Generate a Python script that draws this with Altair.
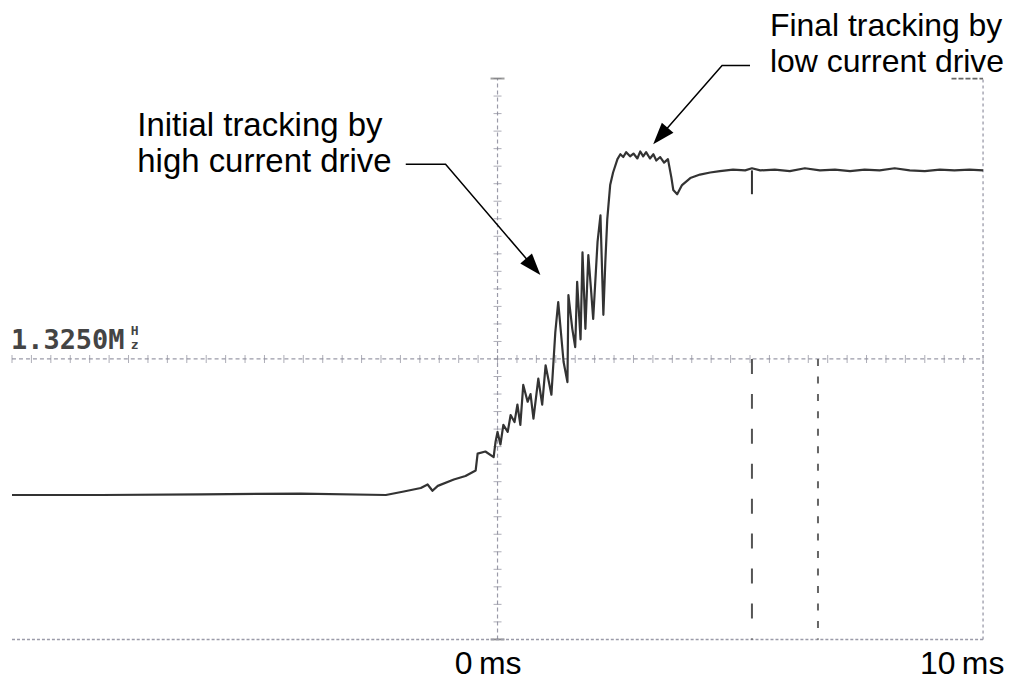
import altair as alt
import pandas as pd
import numpy as np

# ---- oscilloscope trace (time in ms, level in vertical divisions) ----
trace_t = [-10.0, -8.16, -6.10, -4.05, -2.30, -1.93, -1.58, -1.44, -1.34, -1.23,
           -0.90, -0.66, -0.45, -0.41, -0.25, -0.08, -0.04, 0.00, 0.06, 0.12,
           0.21, 0.27, 0.35, 0.41, 0.47, 0.53, 0.62, 0.68, 0.74, 0.84,
           0.92, 0.99, 1.11, 1.19, 1.25, 1.36, 1.44, 1.46, 1.54, 1.60,
           1.64, 1.71, 1.75, 1.81, 1.87, 1.93, 1.97, 2.06, 2.12, 2.18,
           2.22, 2.26, 2.32, 2.38, 2.47, 2.53, 2.59, 2.65, 2.73, 2.80,
           2.88, 2.94, 3.00, 3.06, 3.14, 3.21, 3.27, 3.35, 3.43, 3.51,
           3.58, 3.62, 3.70, 3.80, 3.97, 4.17, 4.38, 4.58, 4.85, 5.10,
           5.24, 5.41, 5.71, 6.02, 6.33, 6.64, 6.95, 7.26, 7.56, 7.87,
           8.18, 8.49, 8.80, 9.11, 9.41, 9.72, 10.0]
trace_v = [-1.94, -1.94, -1.93, -1.92, -1.94, -1.89, -1.84, -1.79, -1.88, -1.81,
           -1.72, -1.67, -1.59, -1.35, -1.32, -1.40, -1.18, -1.04, -1.22, -0.94,
           -1.04, -0.80, -0.90, -0.65, -0.94, -0.37, -0.61, -0.50, -0.85, -0.28,
           -0.65, -0.09, -0.51, 0.38, 0.81, -0.04, -0.33, 0.91, 0.43, 0.17,
           1.10, 0.28, 1.52, 0.43, 1.48, 0.95, 0.57, 1.67, 2.05, 0.63,
           1.38, 1.99, 2.48, 2.66, 2.85, 2.92, 2.88, 2.95, 2.89, 2.93,
           2.86, 2.96, 2.89, 2.95, 2.86, 2.92, 2.83, 2.88, 2.80, 2.85,
           2.59, 2.41, 2.35, 2.48, 2.58, 2.63, 2.66, 2.68, 2.70, 2.69,
           2.72, 2.69, 2.70, 2.68, 2.72, 2.69, 2.70, 2.68, 2.70, 2.69,
           2.72, 2.69, 2.68, 2.70, 2.69, 2.70, 2.69]

# cursors
cursor_dash_t = 5.24
cursor_dot_t = 6.60
trace_mark_v = [2.69, 2.35]

# texts
x_labels = ["0\u2009ms", "10\u2009ms"]
x_label_t = [-0.88, 8.70]
x_label_v = [-4.49, -4.49]

anno1_lines = ["Initial tracking by", "high current drive"]
anno1_t = [-7.42, -7.42]
anno1_v = [3.175, 2.662]
anno2_lines = ["Final tracking by", "low current drive"]
anno2_t = [5.61, 5.61]
anno2_v = [4.60, 4.10]

freq_label = "1.3250M"
freq_unit = ["H", "z"]

# annotation leader lines (t, v) and arrow heads
lead1_t = [-1.89, -1.07, 0.736]
lead1_v = [2.776, 2.776, 1.315]
lead2_t = [5.20, 4.625, 3.355]
lead2_v = [4.185, 4.185, 3.179]
head_t = [0.736, 3.355]
head_v = [1.315, 3.179]
head_angle = [139.4, 221.1]

XS = alt.Scale(domain=[-10, 10], nice=False, zero=False)
YS = alt.Scale(domain=[-4, 4], nice=False, zero=False)


def X(f="t"):
    return alt.X(f"{f}:Q", scale=XS, axis=None)


def Y(f="v"):
    return alt.Y(f"{f}:Q", scale=YS, axis=None)


grid_col = "#9a9aa8"

# center axes
hline = alt.Chart(pd.DataFrame({"t": [-10], "t2": [10], "v": [0]})).mark_rule(
    color=grid_col, strokeWidth=1.2, strokeDash=[4, 3]).encode(
    x=X(), x2="t2:Q", y=Y())
vline = alt.Chart(pd.DataFrame({"t": [0], "v": [-4], "v2": [4]})).mark_rule(
    color=grid_col, strokeWidth=1.2, strokeDash=[4, 3]).encode(
    x=X(), y=Y(), y2="v2:Q")

hticks = [round(x, 2) for x in np.arange(-10, 10.001, 0.4)]
vticks = [round(x, 2) for x in np.arange(-4, 4.001, 0.25)]
htick_layer = alt.Chart(pd.DataFrame({"t": hticks, "v": 0})).mark_tick(
    orient="vertical", size=8, thickness=1, color="#8a8a98").encode(x=X(), y=Y())
vtick_layer = alt.Chart(pd.DataFrame({"t": 0, "v": vticks})).mark_tick(
    orient="horizontal", size=8, thickness=1, color="#8a8a98").encode(x=X(), y=Y())
vend_layer = alt.Chart(pd.DataFrame({"t": [0, 0], "v": [4, -4]})).mark_tick(
    orient="horizontal", size=14, thickness=2, color="#777").encode(x=X(), y=Y())

# frame pieces
right_border = alt.Chart(pd.DataFrame({"t": [10], "v": [-4], "v2": [4]})).mark_rule(
    color="#a8a8b4", strokeWidth=1.5, strokeDash=[3, 3]).encode(x=X(), y=Y(), y2="v2:Q")
bottom_border = alt.Chart(pd.DataFrame({"t": [-10], "t2": [10], "v": [-4]})).mark_rule(
    color="#9a9aa8", strokeWidth=1.5, strokeDash=[3, 2]).encode(x=X(), x2="t2:Q", y=Y())
top_corner = alt.Chart(pd.DataFrame({"t": [9.35], "t2": [10], "v": [4]})).mark_rule(
    color="#666", strokeWidth=1.8, strokeDash=[5, 2]).encode(x=X(), x2="t2:Q", y=Y())

# cursors
cur_dash = alt.Chart(pd.DataFrame({"t": [cursor_dash_t], "v": [0], "v2": [-4]})).mark_rule(
    color="#555", strokeWidth=2, strokeDash=[15, 20]).encode(x=X(), y=Y(), y2="v2:Q")
cur_dot = alt.Chart(pd.DataFrame({"t": [cursor_dot_t], "v": [0], "v2": [-4]})).mark_rule(
    color="#666", strokeWidth=2, strokeDash=[7, 10.5]).encode(x=X(), y=Y(), y2="v2:Q")
trace_mark = alt.Chart(pd.DataFrame({"t": [cursor_dash_t], "v": [trace_mark_v[0]],
                                     "v2": [trace_mark_v[1]]})).mark_rule(
    color="#333", strokeWidth=2).encode(x=X(), y=Y(), y2="v2:Q")

# trace
trace_df = pd.DataFrame({"t": trace_t, "v": trace_v, "i": range(len(trace_t))})
trace = alt.Chart(trace_df).mark_line(color="#333333", strokeWidth=2.2,
                                      strokeJoin="round").encode(
    x=X(), y=Y(), order="i:Q")

# leader lines and arrow heads
lead_df = pd.DataFrame({
    "t": lead1_t + lead2_t, "v": lead1_v + lead2_v,
    "g": ["a"] * 3 + ["b"] * 3, "i": [0, 1, 2, 0, 1, 2]})
leads = alt.Chart(lead_df).mark_line(color="black", strokeWidth=1.5).encode(
    x=X(), y=Y(), detail="g:N", order="i:Q")
heads = alt.Chart(pd.DataFrame({"t": head_t, "v": head_v, "a": head_angle})).mark_point(
    shape="M0,-1L0.7,1L-0.7,1Z", filled=True, size=484, color="black", opacity=1,
    strokeWidth=0).encode(x=X(), y=Y(), angle=alt.Angle("a:Q", scale=None))

# texts
anno1 = alt.Chart(pd.DataFrame({"t": anno1_t, "v": anno1_v, "s": anno1_lines})).mark_text(
    font="Liberation Sans", fontSize=33, align="left", baseline="alphabetic",
    color="black").encode(x=X(), y=Y(), text="s:N")
anno2 = alt.Chart(pd.DataFrame({"t": anno2_t, "v": anno2_v, "s": anno2_lines})).mark_text(
    font="Liberation Sans", fontSize=32, align="left", baseline="alphabetic",
    color="black").encode(x=X(), y=Y(), text="s:N")
xlab = alt.Chart(pd.DataFrame({"t": x_label_t, "v": x_label_v, "s": x_labels})).mark_text(
    font="Liberation Sans", fontSize=32, align="left", baseline="alphabetic",
    color="black").encode(x=X(), y=Y(), text="s:N")
freq = alt.Chart(pd.DataFrame({"t": [-10.0], "v": [0.142], "s": [freq_label]})).mark_text(
    font="DejaVu Sans Mono", fontSize=27, fontWeight="bold", align="left",
    baseline="alphabetic", color="#444", dx=-1).encode(x=X(), y=Y(), text="s:N")
unit = alt.Chart(pd.DataFrame({"t": [-10.0, -10.0], "v": [0.345, 0.142],
                               "s": freq_unit})).mark_text(
    font="DejaVu Sans Mono", fontSize=13, fontWeight="bold", align="left",
    baseline="alphabetic", color="#444", dx=119).encode(x=X(), y=Y(), text="s:N")

chart = alt.layer(
    hline, vline, htick_layer, vtick_layer, vend_layer,
    right_border, bottom_border, top_corner,
    cur_dash, cur_dot, trace, trace_mark,
    leads, heads, anno1, anno2, xlab, freq, unit
).properties(
    width=973, height=562,
    autosize=alt.AutoSizeParams(type="none"),
    padding={"left": 4, "top": 70, "right": 30, "bottom": 42},
    background="white",
).configure_view(stroke="transparent")

chart.save("out.html", embed_options={"renderer": "svg", "actions": False})
